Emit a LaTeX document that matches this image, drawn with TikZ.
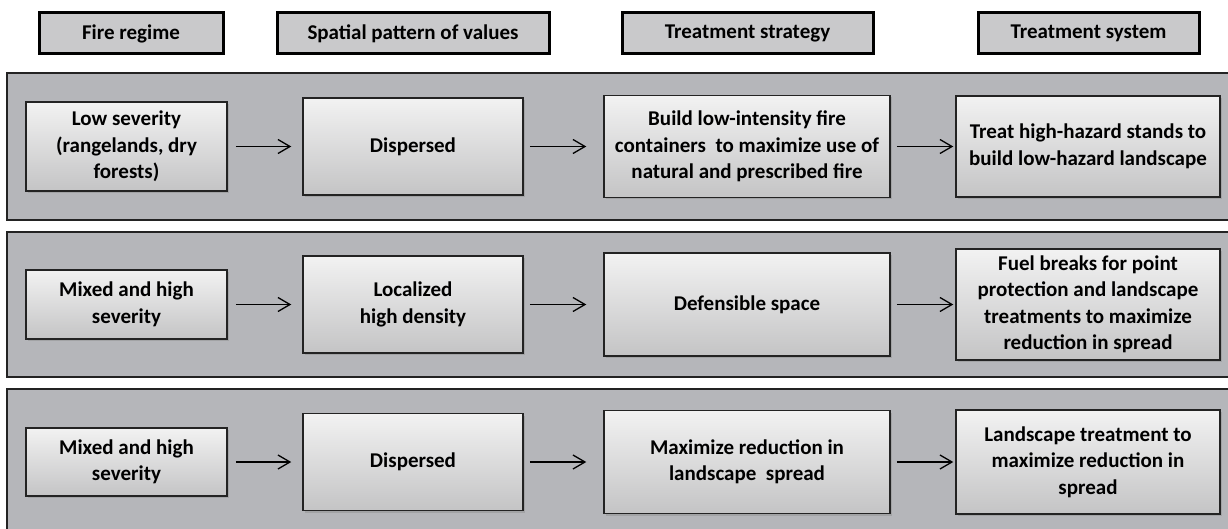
\documentclass[tikz,border=0pt]{standalone}
\usepackage{fontspec}
\setmainfont{Carlito}
\usetikzlibrary{arrows.meta,shadows}

\definecolor{bandgray}{RGB}{181,182,186}
\definecolor{headgray}{RGB}{201,201,203}
\definecolor{boxtop}{RGB}{242,242,242}
\definecolor{boxbot}{RGB}{196,196,197}
\definecolor{edgegray}{RGB}{35,35,35}

\tikzset{
  head/.style={draw=black, line width=3pt, fill=headgray, minimum height=41pt,
    inner sep=0pt, font=\fontsize{21}{26.5}\selectfont\bfseries},
  band/.style={draw=edgegray, line width=2.5pt, fill=bandgray},
  cell/.style={draw=edgegray, line width=1.5pt, top color=boxtop, bottom color=boxbot,
    drop shadow={shadow xshift=2pt, shadow yshift=-2pt, opacity=0.35},
    inner sep=0pt, align=center, font=\fontsize{21}{26.5}\selectfont\bfseries},
  flow/.style={-{Straight Barb[length=12pt,width=14pt]}, line width=1.3pt}
}

\begin{document}
\begin{tikzpicture}[x=1pt, y=-1pt]
  \useasboundingbox (0,0) rectangle (1228,529);
  \clip (0,0) rectangle (1228,529);
  \fill[white] (0,0) rectangle (1228,529);

  \node[head, minimum width=184pt] (h1) at (131,33.5) {Fire regime};
  \node[head, minimum width=272pt] (h2) at (413,33.5) {Spatial pattern of values};
  \node[head, minimum width=251pt] (h3) at (747.5,33.5) {Treatment strategy};
  \node[head, minimum width=221pt] (h4) at (1088.5,33.5) {Treatment system};

  \draw[band] (7,73) rectangle (1240,220);
  \draw[band] (7,232) rectangle (1240,377);
  \draw[band] (7,389) rectangle (1240,540);

  \node[cell, minimum width=201pt, minimum height=89pt] (a1) at (126.5,146.5)
    {Low severity\\(rangelands, dry\\forests)};
  \node[cell, minimum width=220pt, minimum height=97pt] (a2) at (413,146.5) {Dispersed};
  \node[cell, minimum width=286pt, minimum height=102pt] (a3) at (747,146.5)
    {Build low-intensity fire\\containers\ \ to maximize use of\\natural and prescribed fire};
  \node[cell, minimum width=264pt, minimum height=101pt] (a4) at (1088,146.5)
    {Treat high-hazard stands to\\build low-hazard landscape};

  \node[cell, minimum width=201pt, minimum height=69pt] (b1) at (126.5,304.5)
    {Mixed and high\\severity};
  \node[cell, minimum width=220pt, minimum height=97pt] (b2) at (413,304.5)
    {Localized\\high density};
  \node[cell, minimum width=286pt, minimum height=103pt] (b3) at (747,304.5) {Defensible space};
  \node[cell, minimum width=264pt, minimum height=111pt] (b4) at (1088,304.5)
    {Fuel breaks for point\\protection and landscape\\treatments to maximize\\reduction in spread};

  \node[cell, minimum width=201pt, minimum height=68pt] (c1) at (126.5,462)
    {Mixed and high\\severity};
  \node[cell, minimum width=220pt, minimum height=97pt] (c2) at (413,462) {Dispersed};
  \node[cell, minimum width=286pt, minimum height=103pt] (c3) at (747,462)
    {Maximize reduction in\\landscape\ \ spread};
  \node[cell, minimum width=264pt, minimum height=104pt] (c4) at (1088,462)
    {Landscape treatment to\\maximize reduction in\\spread};

  \draw[flow] ([xshift=8pt]a1.east) -- ([xshift=-11pt]a2.west);
  \draw[flow] ([xshift=6pt]a2.east) -- ([xshift=-17pt]a3.west);
  \draw[flow] ([xshift=6pt]a3.east) -- ([xshift=-2pt]a4.west);
  \draw[flow] ([xshift=8pt]b1.east) -- ([xshift=-11pt]b2.west);
  \draw[flow] ([xshift=6pt]b2.east) -- ([xshift=-17pt]b3.west);
  \draw[flow] ([xshift=6pt]b3.east) -- ([xshift=-2pt]b4.west);
  \draw[flow] ([xshift=8pt]c1.east) -- ([xshift=-11pt]c2.west);
  \draw[flow] ([xshift=6pt]c2.east) -- ([xshift=-17pt]c3.west);
  \draw[flow] ([xshift=6pt]c3.east) -- ([xshift=-2pt]c4.west);
\end{tikzpicture}
\end{document}
